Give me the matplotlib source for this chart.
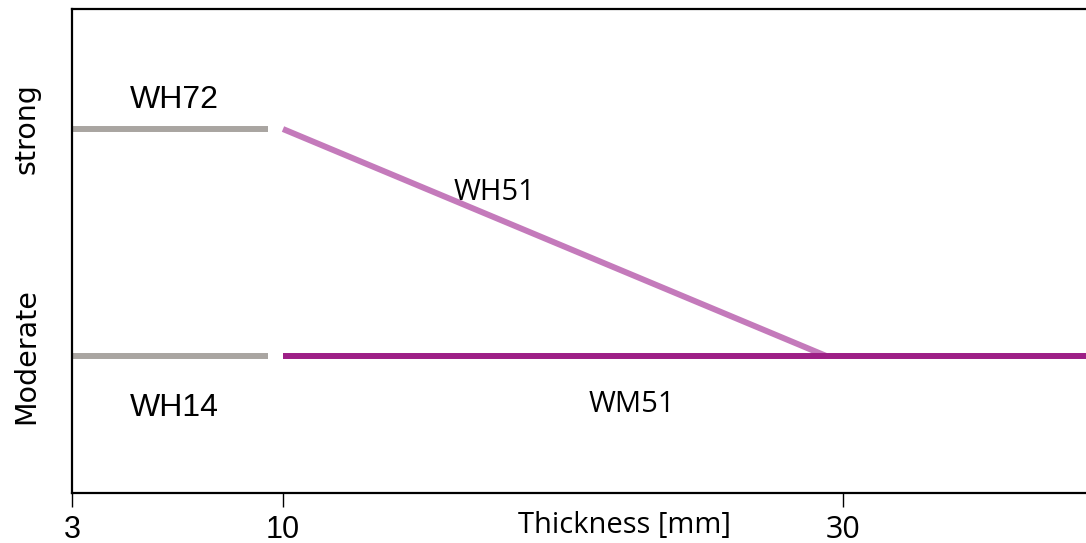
import numpy as np
import matplotlib
matplotlib.use("Agg")
import matplotlib.pyplot as plt

# --- data ---
x_ticks = [3, 10, 30]
x_tick_labels = ["3", "10", "30"]
y_levels = [1, 2]
y_level_labels = ["Moderate", "strong"]

wh72_x = [3, 9.5]
wh72_y = [2, 2]
wh14_x = [3, 9.5]
wh14_y = [1, 1]
wh51_x = [10, 29.4]
wh51_y = [2, 1]
wm51_x = [10, 40]
wm51_y = [1, 1]

GREY = "#a9a5a1"
LIGHT_PURPLE = "#c47abb"
DARK_PURPLE = "#9d1f86"

# piecewise axis: the ticks 3, 10, 30 are not evenly spaced in the original
_xs = np.array([0.0, 3.0, 10.0, 30.0, 50.0])
_us = np.array([-90.4, 0.0, 211.0, 771.0, 1331.0])


def fwd(x):
    return np.interp(x, _xs, _us)


def inv(u):
    return np.interp(u, _us, _xs)


fig = plt.figure(figsize=(10.86, 5.43), dpi=100)
ax = fig.add_axes([72 / 1086, 1 - 493 / 543, 1 - 72 / 1086, (493 - 9) / 543])
ax.set_xscale("function", functions=(fwd, inv))

lw = 4.3
ax.plot(wh72_x, wh72_y, color=GREY, lw=lw, solid_capstyle="butt")
ax.plot(wh14_x, wh14_y, color=GREY, lw=lw, solid_capstyle="butt")
ax.plot(wh51_x, wh51_y, color=LIGHT_PURPLE, lw=lw, solid_capstyle="butt")
ax.plot(wm51_x, wm51_y, color=DARK_PURPLE, lw=lw, solid_capstyle="butt")

arial = "Liberation Sans"
segoe = "Open Sans"
ax.text(4.92, 2.128, "WH72", fontsize=23, family=arial, ha="left", va="center")
ax.text(4.92, 0.771, "WH14", fontsize=23, family=arial, ha="left", va="center")
ax.text(16.1, 1.72, "WH51", fontsize=21, family=segoe, ha="left", va="center")
ax.text(20.9, 0.785, "WM51", fontsize=21, family=segoe, ha="left", va="center")

ax.set_xlim(3, 38.68)
ax.set_ylim(0.396, 2.529)

ax.set_xticks(x_ticks, labels=x_tick_labels)
ax.tick_params(axis="x", length=10, width=1, pad=5.5, labelsize=22)
for lbl in ax.get_xticklabels():
    lbl.set_fontfamily(segoe if lbl.get_text() == "30" else arial)

ax.set_yticks(y_levels, labels=y_level_labels)
ax.tick_params(axis="y", length=0, pad=23, labelsize=20.5)
for lbl in ax.get_yticklabels():
    lbl.set_rotation(90)
    lbl.set_va("center")
    lbl.set_fontfamily("DejaVu Sans")

ax.set_xlabel("Thickness [mm]", fontsize=21, family=segoe)
ax.xaxis.set_label_coords(0.545, -0.038)

for side in ["left", "bottom", "top"]:
    ax.spines[side].set_linewidth(1.6)
ax.spines["right"].set_visible(False)

fig.savefig("out.png", dpi=100)
